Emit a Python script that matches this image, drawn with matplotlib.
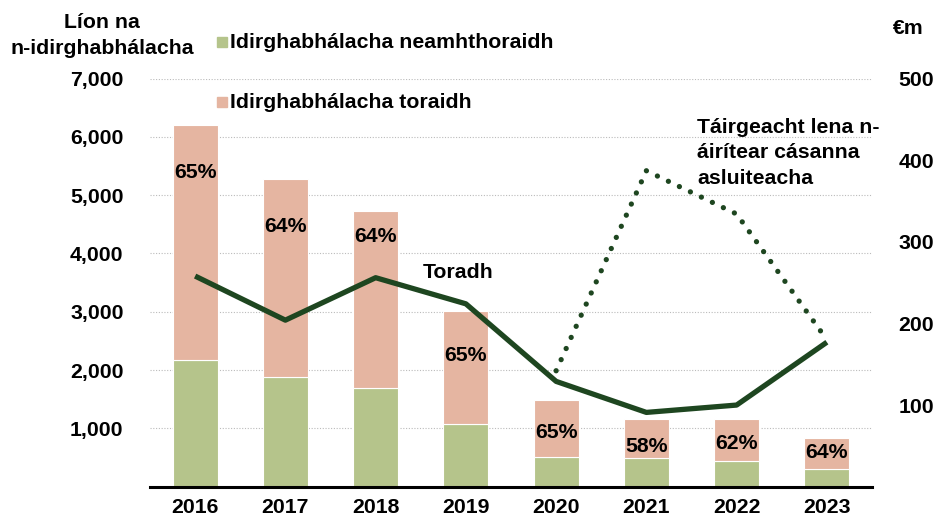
import matplotlib
matplotlib.use("Agg")
import matplotlib.pyplot as plt
import numpy as np

plt.rcParams['font.family'] = ['Liberation Sans', 'DejaVu Sans']
plt.rcParams['font.weight'] = 'bold'

years = ["2016", "2017", "2018", "2019", "2020", "2021", "2022", "2023"]
non_success = [2170, 1880, 1700, 1070, 515, 487, 440, 298]
success = [4040, 3400, 3030, 1950, 970, 673, 720, 542]
pct_labels = ["65%", "64%", "64%", "65%", "65%", "58%", "62%", "64%"]
pct_label_y = [5395, 4469, 4286, 2258, 921, 686, 749, 583]
toradh = [258, 204, 256, 224, 129, 91, 100, 177]
tairgeacht_years = ["2020", "2021", "2022", "2023"]
tairgeacht = [142, 387, 334, 180]

GREEN = "#B5C48B"
PINK = "#E5B5A1"
DARK = "#1E4620"
FS = 15.3

fig = plt.figure(figsize=(9.33, 5.21), dpi=100)
ax = fig.add_axes([150/933, 1-486.7/521, (872-150)/933, (486.7-78.5)/521])
x = np.arange(len(years))

ax.bar(x, non_success, width=0.5, color=GREEN, edgecolor="white", linewidth=0.8, zorder=2)
ax.bar(x, success, width=0.5, bottom=non_success, color=PINK, edgecolor="white", linewidth=0.8, zorder=2)
for xi, lab, yl in zip(x, pct_labels, pct_label_y):
    ax.text(xi, yl, lab, ha="center", va="center", fontsize=FS, fontweight="bold", zorder=5)

ax.set_xlim(-0.5, 7.5)
ax.set_ylim(0, 7000)
ax.set_yticks(range(1000, 7001, 1000))
ax.set_yticklabels([f"{v:,}" for v in range(1000, 7001, 1000)], fontsize=FS, fontweight="bold")
ax.set_xticks(x)
ax.set_xticklabels(years, fontsize=FS, fontweight="bold")
ax.tick_params(axis="y", length=0, pad=19)
ax.tick_params(axis="x", length=0, pad=8)
ax.grid(axis="y", color="#BBBBBB", linestyle=(0, (1, 1.5)), linewidth=0.8, zorder=0)
ax.set_axisbelow(True)
for s in ["top", "right", "left"]:
    ax.spines[s].set_visible(False)
ax.spines["bottom"].set_linewidth(2.2)
ax.spines["bottom"].set_color("black")

ax2 = ax.twinx()
ax2.set_ylim(0, 500)
ax2.set_yticks(range(100, 501, 100))
ax2.set_yticklabels([str(v) for v in range(100, 501, 100)], fontsize=FS, fontweight="bold")
ax2.tick_params(axis="y", length=0, pad=19)
for s in ["top", "right", "left", "bottom"]:
    ax2.spines[s].set_visible(False)

ax2.plot(x, toradh, color=DARK, linewidth=3.8, solid_capstyle="butt", zorder=4)
tx = [years.index(y) for y in tairgeacht_years]
ax2.plot(tx, tairgeacht, color=DARK, linewidth=3.8, linestyle=(0, (0.01, 2.3)),
         dash_capstyle="round", zorder=4)

fig.text(102/933, 1-23/521, "Líon na", ha="center", va="center", fontsize=FS, fontweight="bold")
fig.text(102/933, 1-48/521, "n-idirghabhálacha", ha="center", va="center", fontsize=FS, fontweight="bold")
fig.text(908/933, 1-28/521, "€m", ha="center", va="center", fontsize=FS, fontweight="bold")

# legend
fig.patches.append(plt.Rectangle((217/933, 1-47/521), 10/933, 10/521, transform=fig.transFigure,
                                 color=GREEN, figure=fig))
fig.text(230/933, 1-42/521, "Idirghabhálacha neamhthoraidh", ha="left", va="center", fontsize=FS, fontweight="bold")
fig.patches.append(plt.Rectangle((217/933, 1-107/521), 10/933, 10/521, transform=fig.transFigure,
                                 color=PINK, figure=fig))
fig.text(230/933, 1-102/521, "Idirghabhálacha toraidh", ha="left", va="center", fontsize=FS, fontweight="bold")

fig.text(423/933, 1-272/521, "Toradh", ha="left", va="center", fontsize=FS, fontweight="bold")
fig.text(697/933, 1-153/521, "Táirgeacht lena n-\náirítear cásanna\nasluiteacha", ha="left", va="center",
         fontsize=FS, fontweight="bold", linespacing=1.45)

fig.savefig("out.png", dpi=100)
